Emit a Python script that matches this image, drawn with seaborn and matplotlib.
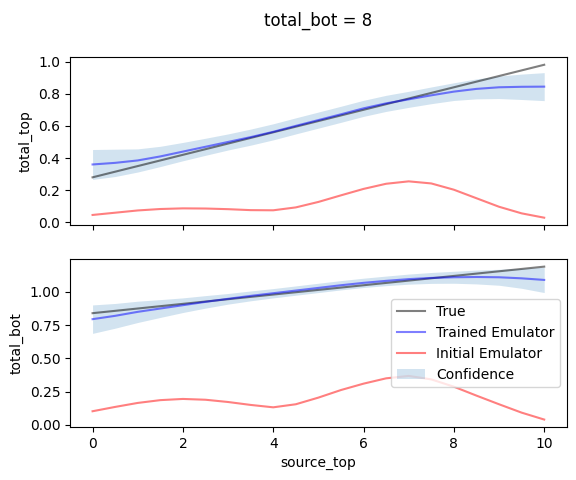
import matplotlib
matplotlib.use("Agg")
import matplotlib.pyplot as plt
import seaborn as sns
import numpy as np

x = [0.0, 0.5, 1.0, 1.5, 2.0, 2.5, 3.0, 3.5, 4.0, 4.5, 5.0,
     5.5, 6.0, 6.5, 7.0, 7.5, 8.0, 8.5, 9.0, 9.5, 10.0]

# top panel: total_top
top_true = [0.280, 0.315, 0.350, 0.385, 0.420, 0.455, 0.490, 0.525, 0.560, 0.595, 0.630,
            0.665, 0.700, 0.735, 0.770, 0.805, 0.840, 0.875, 0.910, 0.945, 0.980]
top_trained = [0.360, 0.370, 0.385, 0.410, 0.440, 0.470, 0.500, 0.530, 0.563, 0.600, 0.636,
               0.672, 0.709, 0.740, 0.765, 0.790, 0.813, 0.830, 0.840, 0.843, 0.844]
top_initial = [0.046, 0.060, 0.074, 0.083, 0.087, 0.086, 0.082, 0.076, 0.075, 0.093, 0.127,
               0.168, 0.208, 0.240, 0.255, 0.242, 0.203, 0.150, 0.097, 0.056, 0.029]
top_halfwidth = [0.093, 0.085, 0.072, 0.063, 0.057, 0.053, 0.050, 0.050, 0.050, 0.050, 0.050,
                 0.050, 0.050, 0.050, 0.050, 0.052, 0.055, 0.062, 0.070, 0.079, 0.087]

# bottom panel: total_bot
bot_true = [0.840, 0.8575, 0.875, 0.8925, 0.910, 0.9275, 0.945, 0.9625, 0.980, 0.9975, 1.015,
            1.0325, 1.050, 1.0675, 1.085, 1.1025, 1.120, 1.1375, 1.155, 1.1725, 1.190]
bot_trained = [0.795, 0.820, 0.850, 0.875, 0.900, 0.925, 0.948, 0.970, 0.990, 1.010, 1.030,
               1.050, 1.068, 1.083, 1.096, 1.105, 1.110, 1.112, 1.110, 1.102, 1.090]
bot_initial = [0.1025, 0.135, 0.165, 0.186, 0.195, 0.189, 0.172, 0.150, 0.132, 0.155, 0.205,
               0.262, 0.310, 0.350, 0.368, 0.342, 0.287, 0.220, 0.155, 0.092, 0.040]
bot_halfwidth = [0.107, 0.093, 0.080, 0.067, 0.055, 0.047, 0.040, 0.037, 0.035, 0.035, 0.035,
                 0.035, 0.035, 0.036, 0.038, 0.041, 0.045, 0.052, 0.060, 0.075, 0.095]

suptitle = "total_bot = 8"
xlabel = "source_top"
ylabels = ["total_top", "total_bot"]

fig, axes = plt.subplots(2, 1, sharex=True, figsize=(5.76, 4.8), dpi=100)
fig.subplots_adjust(left=0.1215, right=0.984, top=0.881, bottom=0.110, hspace=0.2)

panels = [(top_true, top_trained, top_initial, top_halfwidth),
          (bot_true, bot_trained, bot_initial, bot_halfwidth)]

xa = np.array(x)
for ax, (tr, te, ie, hw), yl in zip(axes, panels, ylabels):
    sns.lineplot(x=x, y=tr, color="black", alpha=0.5, label="True", ax=ax)
    sns.lineplot(x=x, y=te, color="blue", alpha=0.5, label="Trained Emulator", ax=ax)
    sns.lineplot(x=x, y=ie, color="red", alpha=0.5, label="Initial Emulator", ax=ax)
    te_a = np.array(te)
    hw_a = np.array(hw)
    ax.fill_between(xa, te_a - hw_a, te_a + hw_a, color="C0", alpha=0.2, linewidth=0,
                    label="Confidence")
    ax.set_ylabel(yl)
    leg = ax.get_legend()
    if leg is not None:
        leg.remove()

axes[1].set_xlabel(xlabel)
axes[1].set_yticks([0.0, 0.25, 0.5, 0.75, 1.0])
axes[1].legend(loc="center right")
axes[0].set_xticks([0, 2, 4, 6, 8, 10])

fig.suptitle(suptitle, x=0.553, y=0.975)
fig.savefig("out.png", dpi=100)
